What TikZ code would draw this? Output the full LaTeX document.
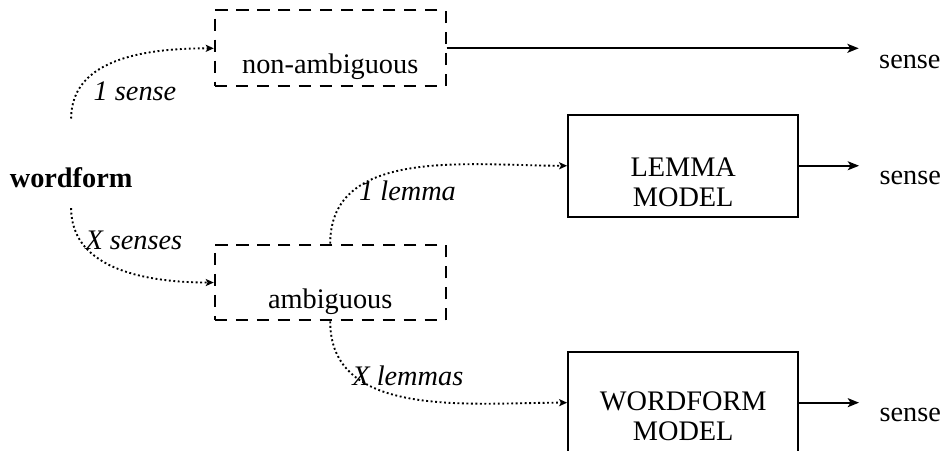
\documentclass[tikz,border=0pt]{standalone}
\usepackage{fontspec}
\setmainfont{Liberation Serif}
\usetikzlibrary{arrows.meta, positioning}

\begin{document}
\begin{tikzpicture}[
    font=\fontsize{12}{12.7}\selectfont,
    choice/.style={draw, line width=0.85pt, dash pattern=on 5.1pt off 3.8pt, minimum width=3.44cm, minimum height=1.13cm},
    model/.style={draw, line width=0.85pt, minimum width=3.43cm, minimum height=1.52cm},
    boxtext/.style={align=center, inner sep=0pt},
    countlabel/.style={font=\fontsize{12}{12.7}\selectfont\itshape, inner sep=2pt},
    sense/.style={inner xsep=8.5pt, inner ysep=0pt},
    route/.style={-{Stealth[length=3.4pt, width=3pt, inset=0.8pt]}, line width=0.8pt, dash pattern=on 0.8pt off 1.1pt},
    arrow/.style={-{Stealth[length=4.8pt, width=3.8pt, inset=1.2pt]}, line width=0.75pt}
]
\useasboundingbox (0,0) rectangle (14.17,-6.71);

% Input
\node[font=\fontsize{12}{12.7}\selectfont\bfseries, inner sep=0pt, anchor=base] (wordform) at (1.06,-2.79) {wordform};

% First split
\node[choice] (nonamb) at (4.92,-0.72) {};
\node[boxtext] (nonambtext) at ([yshift=-0.27cm]nonamb.center) {non-ambiguous};
\node[choice] (amb) at ([yshift=-3.49cm]nonamb.center) {};
\node[boxtext] (ambtext) at ([yshift=-0.28cm]amb.center) {ambiguous};

% Models
\node[model] (lemma) at (10.18,-2.47) {};
\node[boxtext] (lemmatext) at ([yshift=-0.24cm]lemma.center) {LEMMA\\MODEL};
\node[model] (wfmodel) at ([yshift=-3.53cm]lemma.center) {};
\node[boxtext] (wfmodeltext) at ([yshift=-0.2cm]wfmodel.center) {WORDFORM\\MODEL};

% Outputs
\node[sense, anchor=base west] (sense1) at ([xshift=6.14cm, yshift=-0.3cm]nonamb.east) {sense};
\node[sense, anchor=base west] (sense2) at ([xshift=0.89cm, yshift=-0.28cm]lemma.east) {sense};
\node[sense, anchor=base west] (sense3) at ([xshift=0.89cm, yshift=-0.28cm]wfmodel.east) {sense};

\draw[arrow] (nonamb.east) -- (nonamb.east -| sense1.west);
\draw[arrow] (lemma.east) -- (lemma.east -| sense2.west);
\draw[arrow] (wfmodel.east) -- (wfmodel.east -| sense3.west);

% Dotted routes
\draw[route] ([yshift=0.72cm]wordform.north) to[out=90, in=180]
    node[countlabel, pos=0.25, anchor=west, xshift=0.05cm, yshift=-0.15cm] (onesense) {1 sense} (nonamb.west);
\draw[route] ([yshift=-0.3cm]wordform.south) to[out=-90, in=180]
    node[countlabel, pos=0.25, anchor=west, xshift=-0.07cm, yshift=0.09cm] (xsenses) {X senses} (amb.west);
\draw[route] (amb.north) to[out=90, in=180]
    node[countlabel, pos=0.25, anchor=west] (onelemma) {1 lemma} (lemma.west);
\draw[route] (amb.south) to[out=-90, in=180]
    node[countlabel, pos=0.25, anchor=west, xshift=-0.1cm] (xlemmas) {X lemmas} (wfmodel.west);

\end{tikzpicture}
\end{document}
